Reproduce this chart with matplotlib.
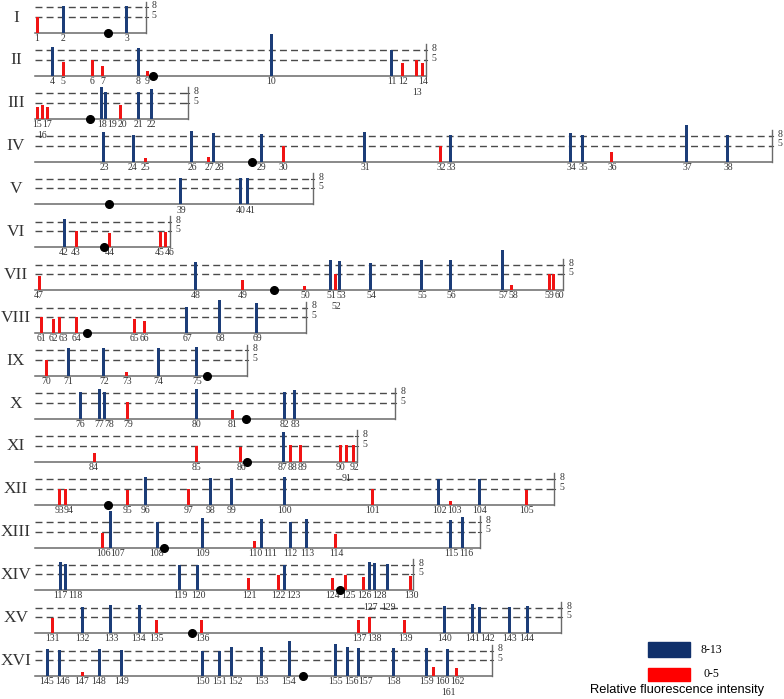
import numpy as np
import matplotlib.pyplot as plt
from matplotlib.patches import Rectangle

# Cromosomas (longitud y centromero en kb aproximados)
chrom_names = ["I", "II", "III", "IV", "V", "VI", "VII", "VIII",
               "IX", "X", "XI", "XII", "XIII", "XIV", "XV", "XVI"]
chrom_len = [220, 780, 304, 1472, 554, 268, 1054, 540,
             422, 718, 642, 1036, 888, 754, 1050, 912]
centromere = [144, 234, 108, 432, 146, 136, 476, 102,
              342, 420, 422, 144, 256, 608, 312, 534]
genes_per_chrom = [3, 11, 8, 16, 3, 5, 14, 9, 6, 8, 9, 13, 11, 14, 14, 18]

# Posicion de cada gen (kb) y su intensidad de fluorescencia relativa
gene_pos = [
    2, 54, 182,                                                    # I
    32, 54, 112, 134, 204, 222, 470, 712, 734, 762, 774,           # II
    2, 12, 22, 132, 140, 170, 204, 230,                            # III
    136, 194, 218, 312, 346, 356, 450, 494, 658, 810, 830,
    1070, 1094, 1152, 1302, 1384,                                  # IV
    290, 410, 424,                                                 # V
    56, 80, 148, 248, 260,                                         # VI
    6, 320, 414, 538, 590, 600, 608, 670, 772, 830, 934, 952,
    1026, 1036,                                                    # VII
    10, 34, 46, 80, 196, 216, 302, 368, 442,                       # VIII
    20, 64, 136, 182, 244, 322,                                    # IX
    88, 126, 138, 184, 322, 394, 496, 518,                         # X
    116, 322, 410, 494, 508, 530, 610, 622, 636,                   # XI
    46, 58, 184, 218, 306, 350, 392, 496, 674, 806, 830, 888, 980, # XII
    134, 150, 242, 334, 438, 450, 508, 542, 600, 830, 854,         # XIII
    48, 58, 288, 324, 426, 484, 496, 594, 620, 656, 668, 678,
    704, 750,                                                      # XIV
    32, 92, 150, 206, 240, 332, 646, 668, 738, 818, 874, 888,
    948, 982,                                                      # XV
    22, 46, 92, 126, 172, 334, 368, 392, 450, 506, 600, 624,
    646, 716, 782, 796, 824, 842,                                  # XVI
]
gene_val = [
    5.0, 8.3, 8.3,
    8.9, 4.4, 5.0, 3.2, 8.6, 1.5, 13.0, 8.0, 4.1, 5.0, 4.1,
    3.6, 4.2, 3.7, 9.9, 8.4, 4.2, 8.4, 9.3,
    9.1, 8.2, 1.2, 9.7, 1.5, 8.8, 8.5, 5.0, 9.1, 4.9, 8.2,
    8.8, 8.2, 3.0, 11.3, 8.2,
    8.3, 8.3, 8.3,
    8.9, 5.0, 4.4, 4.7, 4.7,
    4.3, 8.8, 3.1, 1.2, 9.4, 5.0, 9.2, 8.5, 9.5, 9.5, 12.5, 1.5,
    5.2, 5.2,
    5.0, 4.4, 5.0, 5.0, 4.4, 3.9, 8.1, 10.3, 9.4,
    5.1, 8.6, 8.6, 1.3, 8.6, 9.0,
    8.4, 9.3, 8.4, 5.2, 9.3, 2.9, 8.4, 9.0,
    2.6, 4.8, 4.5, 9.4, 5.1, 5.1, 5.3, 5.3, 5.3,
    5.0, 5.0, 4.5, 8.5, 5.0, 8.3, 8.3, 8.5, 5.0, 8.1, 1.0, 8.1, 4.7,
    4.5, 11.5, 8.1, 9.2, 2.1, 8.9, 8.1, 8.9, 4.2, 8.5, 9.6,
    8.8, 8.4, 8.0, 8.0, 4.0, 4.8, 8.0, 3.8, 4.8, 4.2, 8.8, 8.7,
    8.2, 4.5,
    4.8, 8.1, 8.75, 8.75, 4.2, 4.3, 4.3, 5.0, 4.3, 8.4, 9.2, 8.3,
    8.1, 8.4,
    8.5, 8.3, 1.2, 8.5, 8.3, 8.0, 8.0, 9.2, 9.2, 11.0, 10.0, 9.0,
    8.8, 8.8, 8.8, 2.8, 8.5, 2.4,
]
low_labels = [13, 16, 52, 91, 127, 129, 161]

BLUE = "#1c3d78"
RED = "#f01414"
LINE = "#6a6a6a"
DASH = "#4a4a4a"
SERIF = "Liberation Serif"

fig = plt.figure(figsize=(7.84, 6.99), dpi=100)
ax = fig.add_axes([0, 0, 1, 1])
ax.set_xlim(-72, 1496)
ax.set_ylim(10.3 - 218.44, 10.3)
ax.axis("off")

row = 13.4
digit_w = 10.0  # ancho aprox. de un digito en kb
gene_id = 1
idx = 0
for i, name in enumerate(chrom_names):
    y0 = -i * row
    L = chrom_len[i]

    # linea del cromosoma y niveles 5 y 8
    ax.plot([-2, L], [y0, y0], color=LINE, lw=1.1, zorder=1)
    for lvl in (5, 8):
        ax.plot([-2, L], [y0 + lvl] * 2, color=DASH, lw=1.0,
                dashes=(5, 3), zorder=1)
        ax.plot([L - 3, L + 3], [y0 + lvl] * 2, color=DASH, lw=0.8, zorder=1)
        ax.text(L + 11, y0 + lvl + 0.5, str(lvl), fontsize=7, family=SERIF,
                ha="left", va="center", color="#333333")
    ax.plot([L, L], [y0, y0 + 9.8], color=LINE, lw=1.0, zorder=1)

    ax.text(-40, y0 + 4.8, name, fontsize=12.5, family=SERIF,
            ha="center", va="center", color="#333333")

    n = genes_per_chrom[i]
    pos = np.array(gene_pos[idx:idx + n])
    val = np.array(gene_val[idx:idx + n])
    colors = [BLUE if v >= 8 else RED for v in val]
    ax.bar(pos, val, width=6, bottom=y0, color=colors, linewidth=0, zorder=2)

    # etiquetas de los genes, desplazadas para que no se solapen
    prev_x, prev_w = None, 0
    for k in range(n):
        gid = gene_id + k
        w = len(str(gid)) * digit_w
        if gid in low_labels:
            ax.text(pos[k], y0 - 5.2, str(gid), fontsize=7, family=SERIF,
                    ha="center", va="center", color="#333333")
            continue
        lx = pos[k]
        if prev_x is not None:
            lx = max(lx, prev_x + (prev_w + w) / 2)
        ax.text(lx, y0 - 1.75, str(gid), fontsize=7, family=SERIF,
                ha="center", va="center", color="#333333")
        prev_x, prev_w = lx, w

    ax.plot(centromere[i], y0, "o", color="black", ms=5.5, zorder=4)

    gene_id += n
    idx += n

# leyenda
fig.add_artist(Rectangle((0.8265, 0.0601), 0.0536, 0.0215,
                         transform=fig.transFigure, color="#10306b"))
fig.add_artist(Rectangle((0.8265, 0.0258), 0.0536, 0.0186,
                         transform=fig.transFigure, color="#ff0000"))
fig.text(0.893, 0.070, "8-13", fontsize=8.5, family=SERIF, va="center")
fig.text(0.897, 0.0358, "0-5", fontsize=8.5, family=SERIF, va="center")
fig.text(0.8635, 0.0129, "Relative fluorescence intensity", fontsize=9.3,
         family="Liberation Sans", ha="center", va="center")

fig.savefig("out.png", dpi=100)
